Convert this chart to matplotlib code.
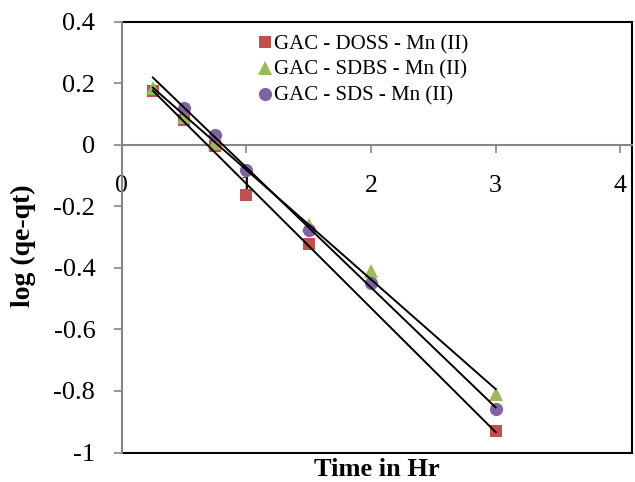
import numpy as np
import matplotlib
matplotlib.use("Agg")
import matplotlib.pyplot as plt

# Data (time in hours, log(qe-qt))
doss_t = [0.25, 0.5, 0.75, 1.0, 1.5, 3.0]
doss_y = [0.176, 0.081, -0.005, -0.162, -0.323, -0.931]
sdbs_t = [0.25, 0.5, 0.75, 1.5, 2.0, 3.0]
sdbs_y = [0.184, 0.090, 0.007, -0.262, -0.411, -0.809]
sds_t = [0.5, 0.75, 1.0, 1.5, 2.0, 3.0]
sds_y = [0.119, 0.032, -0.081, -0.278, -0.449, -0.858]
trend_range = [0.25, 3.0]

labels = ["GAC - DOSS - Mn (II)", "GAC - SDBS - Mn (II)", "GAC - SDS - Mn (II)"]
colors = ["#C0504D", "#9BBB59", "#8064A2"]
markers = ["s", "^", "o"]
msizes = [9, 10, 9.5]
xticks = [0, 1, 2, 3, 4]
yticks = [0.4, 0.2, 0, -0.2, -0.4, -0.6, -0.8, -1]
ytick_labels = ["0.4", "0.2", "0", "-0.2", "-0.4", "-0.6", "-0.8", "-1"]

plt.rcParams['font.family'] = ['Liberation Serif', 'DejaVu Serif']

fig = plt.figure(figsize=(6.35, 4.82), dpi=100)
ax = fig.add_axes([121.7/635, 1-452.5/482, (632-121.7)/635, (452.5-21.7)/482])
ax.set_xlim(0, (632-121.7)/124.65)
ax.set_ylim(-1, 0.4)

gray = "#868686"
series = [(doss_t, doss_y), (sdbs_t, sdbs_y), (sds_t, sds_y)]
handles = []
for (t, y), c, m, ms, lab in zip(series, colors, markers, msizes, labels):
    h, = ax.plot(t, y, linestyle='none', marker=m, color=c, markersize=ms,
                 markeredgewidth=0, label=lab, zorder=3)
    handles.append(h)
for (t, y) in series:
    k, b = np.polyfit(t, y, 1)
    xr = np.array(trend_range)
    ax.plot(xr, k*xr + b, color='black', lw=1.4, zorder=4)

# Axes styling: x axis crosses at y=0
for s in ['top', 'right']:
    ax.spines[s].set_visible(False)
ax.spines['bottom'].set_position(('data', 0))
ax.spines['bottom'].set_color(gray)
ax.spines['bottom'].set_linewidth(1.5)
ax.spines['left'].set_color(gray)
ax.spines['left'].set_linewidth(1.5)

ax.set_xticks(xticks)
ax.set_xticklabels([str(v) for v in xticks])
ax.set_yticks(yticks)
ax.set_yticklabels(ytick_labels)
ax.tick_params(axis='x', direction='out', length=6, width=1.2, color=gray,
               labelsize=18.5, pad=15.5)
ax.tick_params(axis='y', direction='out', length=6, width=1.2, color=gray,
               labelsize=19, pad=13)

ax.set_ylabel("log (qe-qt)", fontsize=20, fontweight='bold')
ax.yaxis.set_label_coords(-0.168, 0.48)
ax.set_xlabel("Time in Hr", fontsize=19, fontweight='bold')
ax.xaxis.set_label_coords(0.5, -0.012)

# Black frame on top, right and bottom
frame = fig.add_axes(ax.get_position(), facecolor='none')
frame.set_xticks([])
frame.set_yticks([])
frame.spines['left'].set_visible(False)
for s in ['top', 'right', 'bottom']:
    frame.spines[s].set_color('black')
    frame.spines[s].set_linewidth(1.5)
frame.set_zorder(0)
ax.set_zorder(1)
ax.patch.set_visible(False)

leg = ax.legend(handles=handles, loc='upper left', bbox_to_anchor=(0.24, 1.004),
                frameon=False, fontsize=15, handlelength=0.6, handletextpad=0.15,
                labelspacing=0.3, borderpad=0.2)

fig.savefig("out.png", dpi=100)
